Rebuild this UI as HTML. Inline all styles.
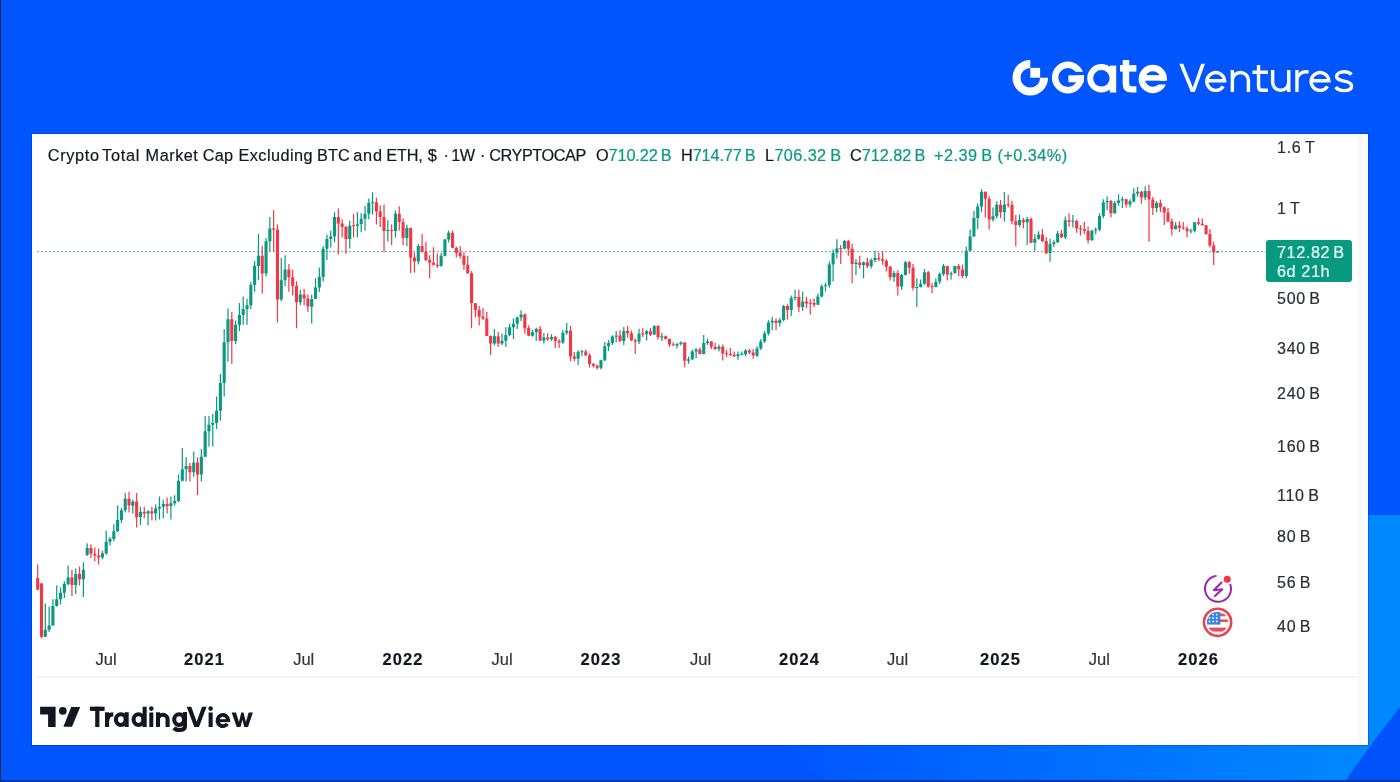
<!DOCTYPE html>
<html>
<head>
<meta charset="utf-8">
<style>
html,body{margin:0;padding:0;}
#txt{position:absolute;left:0;top:0;width:1400px;height:782px;will-change:transform;-webkit-text-stroke:0.2px currentColor;}
body{width:1400px;height:782px;position:relative;overflow:hidden;background:#0055FF;font-family:"Liberation Sans",sans-serif;}
.abs{position:absolute;}
#bg{position:absolute;left:0;top:0;}
#panel{position:absolute;left:32px;top:134px;width:1336px;height:611px;background:#fff;box-shadow:0 0 0 1px rgba(0,40,200,0.35);}
.tt{position:absolute;top:146px;font-size:16.3px;color:#131722;white-space:nowrap;letter-spacing:0.1px;}
.tt .g{color:#089981;}
#chart{position:absolute;left:0;top:0;}
.pl{position:absolute;left:1277px;font-size:16px;color:#2A2E39;white-space:nowrap;line-height:19px;letter-spacing:0.75px;}
.tl{position:absolute;top:649px;width:80px;text-align:center;font-size:16.5px;color:#333336;line-height:20px;}
.tl.yr{color:#131722;}
.tl.yr{font-weight:bold;letter-spacing:1.1px;}
#badge{position:absolute;left:1266px;top:240px;width:86px;height:42px;background:#089981;border-radius:3px;color:#E6FFF7;font-size:16.3px;line-height:19px;letter-spacing:0.55px;}
#badge div{padding-left:11px;}
#tvtext{position:absolute;left:89px;top:701.5px;font-size:28px;font-weight:bold;color:#131722;letter-spacing:-0.2px;line-height:32px;}
#ventures{position:absolute;left:1178px;top:54px;font-size:41px;color:#fff;letter-spacing:1.5px;line-height:46px;}
</style>
</head>
<body>
<svg id="bg" width="1400" height="782" viewBox="0 0 1400 782">
  <defs>
    <linearGradient id="bot" gradientUnits="userSpaceOnUse" x1="790" y1="0" x2="1360" y2="0">
      <stop offset="0" stop-color="#0056FF"/>
      <stop offset="1" stop-color="#0088FF"/>
    </linearGradient>
  </defs>
  <rect x="0" y="0" width="1400" height="782" fill="#0055FF"/>
  <path d="M790 745 H1368 V515 H1400 V707 Q1372 742 1345 782 H823 Z" fill="url(#bot)"/>
  <rect x="1368" y="515" width="32" height="230" fill="#0088FF"/>
  <path d="M1400 707 Q1372 742 1345 782 H1400 Z" fill="#0052FA"/>
  <rect x="0" y="0" width="1" height="782" fill="#002A80"/>
  <rect x="1" y="0" width="1" height="782" fill="#1F4FC0"/>
  <rect x="0" y="780" width="1400" height="2" fill="#0038A8"/>
</svg>
<div id="panel"></div>
<svg id="chart" width="1400" height="782" viewBox="0 0 1400 782">
  <rect x="1357.5" y="134" width="5" height="611" fill="#F8F8F6"/>
  <line x1="37" y1="677" x2="1357" y2="677" stroke="#EFEFEF" stroke-width="1.6"/>
  <line x1="36.9" y1="251.6" x2="1266" y2="251.6" stroke="#8FAAA1" stroke-width="1.35" stroke-dasharray="2 2"/>
  <path d="M45.31 603.4V637.0M49.12 606.6V632.0M52.92 599.2V625.6M56.73 585.5V606.6M60.53 587.6V604.5M64.34 581.3V598.1M68.15 565.4V585.5M75.76 568.6V593.9M83.37 562.3V597.1M87.18 543.3V556.0M102.40 550.7V559.0M106.20 530.6V554.9M110.01 537.0V545.4M113.82 524.3V541.2M117.62 505.6V532.1M121.43 507.9V522.9M125.23 492.9V512.5M132.85 499.8V513.6M140.46 506.7V525.2M148.07 510.2V525.2M155.68 504.4V520.6M159.49 496.4V519.4M163.29 499.8V518.2M170.90 496.4V519.4M174.71 495.2V505.6M178.51 474.5V502.1M182.32 448.0V481.4M186.13 457.2V481.4M193.74 451.4V476.8M201.35 449.1V481.4M205.16 416.1V456.8M208.96 416.1V446.5M212.77 413.9V446.5M216.57 396.5V429.1M220.38 373.7V420.4M224.18 329.1V396.5M227.99 308.5V361.7M235.60 320.4V344.3M239.41 303.0V331.3M243.21 296.5V324.8M247.02 298.7V324.8M250.83 282.1V309.0M254.63 261.0V291.7M258.44 234.1V280.2M266.05 238.0V276.4M269.85 216.9V251.4M281.27 258.1V301.3M285.08 255.3V286.0M300.30 289.8V305.2M311.72 294.6V323.4M315.52 278.3V299.0M319.33 267.6V292.1M323.14 246.1V281.4M326.94 234.5V259.9M330.75 230.7V247.6M334.55 212.3V242.2M349.78 220.7V248.4M357.39 212.3V237.6M361.19 213.0V232.2M365.00 206.1V230.7M368.81 198.4V219.2M372.61 192.3V214.6M387.83 220.1V241.4M395.45 210.4V237.4M406.86 224.7V246.0M418.28 243.7V264.4M441.12 252.9V266.7M444.92 239.1V256.4M448.73 230.5V242.6M494.40 329.1V345.2M502.01 333.6V345.2M505.81 327.3V347.0M509.62 323.8V336.3M513.43 318.4V339.0M517.23 316.6V329.1M521.04 310.3V321.1M532.45 329.7V336.8M536.26 327.6V340.9M543.87 333.2V343.5M551.48 334.3V340.9M562.90 329.7V344.0M566.71 323.0V334.8M578.12 350.1V364.9M581.93 350.1V356.2M600.96 359.8V369.5M604.77 341.9V361.3M608.57 339.9V351.1M612.38 335.3V345.0M616.18 331.0V342.2M623.79 327.0V344.9M639.02 328.8V344.0M646.63 330.1V340.4M654.24 325.2V335.1M661.85 332.8V340.9M677.08 343.1V348.5M680.88 341.3V345.4M688.49 356.6V363.7M692.30 349.4V360.1M696.10 348.0V358.3M703.72 335.1V354.3M707.52 338.6V344.9M718.94 344.5V351.6M737.97 351.6V359.7M741.77 351.6V355.2M745.58 349.0V356.1M757.00 346.3V357.0M760.80 339.1V349.9M764.61 331.1V342.7M768.41 320.3V335.5M772.22 316.8V330.2M779.83 317.7V326.6M783.64 305.1V321.2M791.25 295.4V315.9M795.06 289.7V300.6M802.67 291.6V310.8M817.89 293.5V305.0M821.70 284.6V297.4M825.50 282.7V291.6M829.31 261.6V287.8M833.11 249.4V281.4M836.92 239.2V258.4M844.53 239.8V249.4M855.95 259.0V275.0M863.56 261.6V278.2M871.17 258.4V268.6M874.98 250.7V262.2M894.01 270.9V281.8M901.62 273.7V289.8M905.42 261.1V275.5M916.84 278.3V307.1M920.65 279.5V287.5M924.45 269.1V284.7M935.87 278.3V287.5M939.68 272.6V284.1M943.48 263.9V276.0M951.09 271.4V279.5M954.90 265.7V273.7M966.32 246.7V278.3M970.12 229.5V251.3M973.93 211.1V236.4M977.73 203.6V228.9M981.54 189.2V212.2M992.96 207.6V221.4M996.76 201.3V218.5M1004.37 192.1V221.4M1019.60 214.5V227.2M1027.21 216.8V245.0M1034.82 234.1V251.3M1038.63 231.2V239.8M1050.04 238.7V261.7M1053.85 240.2V247.1M1057.66 231.0V243.1M1065.27 216.6V239.0M1072.88 214.9V227.5M1091.91 229.8V240.8M1095.71 227.5V234.4M1099.52 213.2V231.0M1103.33 199.3V218.3M1107.13 196.5V210.3M1114.74 201.1V213.7M1118.55 194.2V205.7M1122.35 196.5V208.0M1129.97 199.3V207.4M1133.77 188.3V202.3M1137.58 186.9V196.7M1145.19 186.2V200.2M1156.61 200.9V212.2M1175.64 222.0V229.8M1190.86 228.4V233.3M1194.67 222.3V232.6M1217.50 251.0V252.5" stroke="#089981" stroke-width="1.2" fill="none"/>
  <path d="M37.70 564.4V589.7M41.51 583.0V638.2M71.95 569.7V596.0M79.56 566.5V585.5M90.98 544.3V558.0M94.79 547.5V561.2M98.59 548.6V564.4M129.04 491.8V512.5M136.65 492.9V527.5M144.26 506.7V518.2M151.87 506.7V520.6M167.10 497.5V513.6M189.93 463.0V481.4M197.54 457.2V495.2M231.80 311.7V363.9M262.24 245.7V293.6M273.66 210.2V251.4M277.47 224.5V322.4M288.88 263.9V291.7M292.69 269.7V295.6M296.49 281.2V328.2M304.11 288.8V305.2M307.91 294.6V311.9M338.36 208.4V254.5M342.16 219.2V237.6M345.97 226.1V253.7M353.58 213.8V237.6M376.42 197.7V224.5M380.22 205.3V226.9M384.03 204.6V252.2M391.64 224.2V244.9M399.25 206.3V230.5M403.06 218.4V244.9M410.67 227.6V273.1M414.47 252.4V272.5M422.09 233.9V252.4M425.89 242.0V261.0M429.70 255.2V278.3M433.50 247.2V265.6M437.31 253.5V267.9M452.53 230.5V248.3M456.34 246.8V257.6M460.14 245.9V258.5M463.95 252.2V270.1M467.76 255.8V273.7M471.56 271.0V328.2M475.37 303.0V317.5M479.17 305.9V325.5M482.98 307.7V320.2M486.79 312.1V336.3M490.59 335.4V355.1M498.20 331.8V347.0M524.84 313.3V333.7M528.65 325.6V336.3M540.07 326.1V340.9M547.68 333.2V340.9M555.29 335.8V348.1M559.10 338.9V348.1M570.51 326.1V361.3M574.32 352.1V361.3M585.74 349.6V356.2M589.54 353.2V367.5M593.35 362.9V367.5M597.15 364.4V369.5M619.99 330.1V342.2M627.60 326.1V337.8M631.41 330.6V341.3M635.21 338.6V353.9M642.82 327.9V336.9M650.43 327.9V336.0M658.05 325.2V339.5M665.66 335.5V339.5M669.46 338.6V346.7M673.27 342.2V345.8M684.69 342.2V367.3M699.91 347.6V354.3M711.33 340.9V349.0M715.13 342.7V349.9M722.75 344.5V360.6M726.55 349.9V357.0M730.36 348.1V356.1M734.16 351.6V357.0M749.39 349.0V354.3M753.19 349.0V358.8M776.03 318.6V330.2M787.44 304.2V319.4M798.86 289.7V312.1M806.47 296.7V308.2M810.28 299.3V314.6M814.08 298.6V307.0M840.73 244.9V264.1M848.34 239.8V255.8M852.14 243.7V283.3M859.75 255.8V268.6M867.37 257.7V268.0M878.78 252.6V260.9M882.59 251.3V264.8M886.39 259.3V271.4M890.20 265.7V280.6M897.81 270.3V295.6M909.23 261.1V273.7M913.04 263.9V290.4M928.26 270.9V287.5M932.06 282.9V293.3M947.29 265.7V280.6M958.71 263.9V276.0M962.51 264.5V278.3M985.35 191.5V217.4M989.15 196.1V229.5M1000.57 200.1V218.0M1008.18 195.0V207.6M1011.99 200.7V224.3M1015.79 215.1V246.2M1023.40 218.0V228.3M1031.02 217.4V243.3M1042.43 228.9V242.1M1046.24 237.0V254.2M1061.46 229.8V237.9M1069.07 213.2V227.0M1076.69 219.5V232.7M1080.49 225.2V235.6M1084.30 221.8V233.9M1088.10 226.4V243.6M1110.94 199.9V217.2M1126.16 198.8V207.4M1141.38 191.1V203.8M1149.00 184.8V241.7M1152.80 196.7V215.0M1160.41 199.5V212.2M1164.22 206.6V224.9M1168.02 208.0V222.0M1171.83 218.5V235.4M1179.44 221.3V231.9M1183.25 222.0V229.8M1187.05 226.3V237.5M1198.47 217.8V225.6M1202.28 218.5V225.6M1206.08 224.9V234.7M1209.89 229.1V247.4M1213.69 241.7V264.9" stroke="#F23645" stroke-width="1.2" fill="none"/>
  <path d="M43.76 629.8h3.1v6.9h-3.1zM47.57 625.6h3.1v4.1h-3.1zM51.37 606.0h3.1v19.6h-3.1zM55.18 599.2h3.1v6.8h-3.1zM58.98 592.8h3.1v6.4h-3.1zM62.79 583.9h3.1v8.9h-3.1zM66.60 577.5h3.1v6.4h-3.1zM74.21 573.9h3.1v11.1h-3.1zM81.82 569.7h3.1v9.5h-3.1zM85.63 548.0h3.1v6.9h-3.1zM100.85 553.3h3.1v4.2h-3.1zM104.65 541.7h3.1v11.6h-3.1zM108.46 539.1h3.1v2.6h-3.1zM112.27 531.3h3.1v7.8h-3.1zM116.07 520.0h3.1v11.3h-3.1zM119.88 510.2h3.1v9.8h-3.1zM123.68 498.7h3.1v11.5h-3.1zM131.30 501.6h3.1v4.1h-3.1zM138.91 511.9h3.1v5.2h-3.1zM146.52 511.3h3.1v2.3h-3.1zM154.13 508.4h3.1v5.2h-3.1zM157.94 506.8h3.1v1.7h-3.1zM161.74 503.9h3.1v2.9h-3.1zM169.35 503.2h3.1v2.9h-3.1zM173.16 501.0h3.1v2.2h-3.1zM176.96 480.8h3.1v20.2h-3.1zM180.77 469.3h3.1v11.5h-3.1zM184.58 465.9h3.1v3.4h-3.1zM192.19 462.4h3.1v9.8h-3.1zM199.80 456.8h3.1v17.8h-3.1zM203.61 431.3h3.1v25.4h-3.1zM207.41 424.8h3.1v6.5h-3.1zM211.22 423.1h3.1v1.7h-3.1zM215.02 410.7h3.1v12.4h-3.1zM218.83 382.9h3.1v27.8h-3.1zM222.63 342.2h3.1v40.8h-3.1zM226.44 319.3h3.1v22.9h-3.1zM234.05 324.8h3.1v16.3h-3.1zM237.86 315.0h3.1v9.8h-3.1zM241.66 309.0h3.1v6.0h-3.1zM245.47 305.2h3.1v3.8h-3.1zM249.28 285.0h3.1v20.2h-3.1zM253.08 265.8h3.1v19.2h-3.1zM256.89 255.8h3.1v10.1h-3.1zM264.50 241.3h3.1v32.2h-3.1zM268.30 228.4h3.1v12.9h-3.1zM279.72 280.2h3.1v19.2h-3.1zM283.53 269.6h3.1v10.6h-3.1zM298.75 294.6h3.1v7.7h-3.1zM310.17 298.9h3.1v7.8h-3.1zM313.97 287.5h3.1v11.4h-3.1zM317.78 276.8h3.1v10.7h-3.1zM321.59 248.8h3.1v28.1h-3.1zM325.39 239.1h3.1v9.7h-3.1zM329.20 236.4h3.1v2.7h-3.1zM333.00 216.9h3.1v19.5h-3.1zM348.23 225.7h3.1v13.4h-3.1zM355.84 224.2h3.1v1.5h-3.1zM359.64 218.8h3.1v5.3h-3.1zM363.45 213.8h3.1v5.0h-3.1zM367.26 203.0h3.1v10.8h-3.1zM371.06 202.2h3.1v1.0h-3.1zM386.28 229.9h3.1v1.0h-3.1zM393.90 213.8h3.1v17.3h-3.1zM405.31 227.9h3.1v10.1h-3.1zM416.73 246.1h3.1v15.5h-3.1zM439.57 255.8h3.1v10.3h-3.1zM443.37 239.4h3.1v16.4h-3.1zM447.18 232.8h3.1v6.6h-3.1zM492.85 336.3h3.1v7.1h-3.1zM500.46 340.8h3.1v2.6h-3.1zM504.26 334.9h3.1v5.8h-3.1zM508.07 327.3h3.1v7.6h-3.1zM511.88 323.8h3.1v3.5h-3.1zM515.68 317.5h3.1v6.3h-3.1zM519.49 314.6h3.1v2.9h-3.1zM530.90 332.2h3.1v3.6h-3.1zM534.71 328.9h3.1v3.3h-3.1zM542.32 337.6h3.1v2.8h-3.1zM549.93 337.1h3.1v2.1h-3.1zM561.35 332.7h3.1v9.7h-3.1zM565.16 330.7h3.1v2.0h-3.1zM576.57 352.1h3.1v6.7h-3.1zM580.38 351.2h3.1v1.0h-3.1zM599.41 360.3h3.1v7.4h-3.1zM603.22 346.2h3.1v14.1h-3.1zM607.02 342.9h3.1v3.4h-3.1zM610.83 336.6h3.1v6.3h-3.1zM614.63 335.6h3.1v1.1h-3.1zM622.24 331.0h3.1v9.9h-3.1zM637.47 333.8h3.1v7.8h-3.1zM645.08 331.2h3.1v2.7h-3.1zM652.69 326.1h3.1v8.5h-3.1zM660.30 336.2h3.1v1.2h-3.1zM675.53 344.0h3.1v1.6h-3.1zM679.33 342.6h3.1v1.4h-3.1zM686.94 359.2h3.1v1.6h-3.1zM690.75 351.4h3.1v7.9h-3.1zM694.55 349.4h3.1v2.0h-3.1zM702.17 343.1h3.1v10.8h-3.1zM705.97 341.6h3.1v1.6h-3.1zM717.39 346.8h3.1v2.2h-3.1zM736.42 354.3h3.1v1.8h-3.1zM740.22 353.8h3.1v1.0h-3.1zM744.03 350.4h3.1v3.9h-3.1zM755.45 348.6h3.1v7.1h-3.1zM759.25 341.4h3.1v7.2h-3.1zM763.06 333.4h3.1v8.0h-3.1zM766.86 322.6h3.1v10.8h-3.1zM770.67 320.8h3.1v1.8h-3.1zM778.28 319.9h3.1v3.1h-3.1zM782.09 306.0h3.1v13.9h-3.1zM789.70 298.0h3.1v12.0h-3.1zM793.51 297.0h3.1v1.0h-3.1zM801.12 301.5h3.1v5.5h-3.1zM816.34 296.4h3.1v8.3h-3.1zM820.15 286.2h3.1v10.2h-3.1zM823.95 285.2h3.1v1.0h-3.1zM827.76 264.5h3.1v20.7h-3.1zM831.56 252.9h3.1v11.6h-3.1zM835.37 248.4h3.1v4.4h-3.1zM842.98 241.1h3.1v7.3h-3.1zM854.40 262.5h3.1v1.6h-3.1zM862.01 262.2h3.1v2.9h-3.1zM869.62 259.9h3.1v6.4h-3.1zM873.43 258.0h3.1v1.9h-3.1zM892.46 272.9h3.1v4.3h-3.1zM900.07 274.9h3.1v11.5h-3.1zM903.87 262.2h3.1v12.7h-3.1zM915.29 286.9h3.1v1.0h-3.1zM919.10 283.8h3.1v3.2h-3.1zM922.90 272.3h3.1v11.5h-3.1zM934.32 281.8h3.1v5.2h-3.1zM938.13 274.0h3.1v7.8h-3.1zM941.93 265.9h3.1v8.1h-3.1zM949.54 273.2h3.1v1.4h-3.1zM953.35 265.9h3.1v7.2h-3.1zM964.77 250.7h3.1v25.3h-3.1zM968.57 236.4h3.1v14.3h-3.1zM972.38 218.0h3.1v18.4h-3.1zM976.18 206.5h3.1v11.5h-3.1zM979.99 191.8h3.1v14.7h-3.1zM991.41 216.2h3.1v3.2h-3.1zM995.21 204.7h3.1v11.5h-3.1zM1002.82 204.4h3.1v7.8h-3.1zM1018.05 220.0h3.1v4.9h-3.1zM1025.66 219.1h3.1v3.2h-3.1zM1033.27 238.7h3.1v4.0h-3.1zM1037.08 234.4h3.1v4.3h-3.1zM1048.49 244.0h3.1v9.1h-3.1zM1052.30 242.2h3.1v1.8h-3.1zM1056.11 233.6h3.1v8.6h-3.1zM1063.72 220.3h3.1v17.0h-3.1zM1071.33 220.8h3.1v1.0h-3.1zM1090.36 230.7h3.1v9.5h-3.1zM1094.16 229.6h3.1v1.1h-3.1zM1097.97 216.0h3.1v13.6h-3.1zM1101.78 202.2h3.1v13.8h-3.1zM1105.58 201.1h3.1v1.1h-3.1zM1113.19 203.1h3.1v10.1h-3.1zM1117.00 200.5h3.1v2.6h-3.1zM1120.80 199.3h3.1v1.2h-3.1zM1128.42 201.3h3.1v3.2h-3.1zM1132.22 193.6h3.1v7.8h-3.1zM1136.03 191.8h3.1v1.8h-3.1zM1143.64 191.1h3.1v6.3h-3.1zM1155.06 203.0h3.1v5.0h-3.1zM1174.09 225.6h3.1v3.5h-3.1zM1189.31 230.5h3.1v1.0h-3.1zM1193.12 222.3h3.1v8.5h-3.1zM1215.95 251.4h3.1v1.0h-3.1z" fill="#089981"/>
  <path d="M36.15 578.1h3.1v11.6h-3.1zM39.96 583.4h3.1v53.3h-3.1zM70.40 577.5h3.1v7.4h-3.1zM78.01 573.9h3.1v5.3h-3.1zM89.43 548.0h3.1v5.8h-3.1zM93.24 553.9h3.1v1.5h-3.1zM97.04 555.4h3.1v2.1h-3.1zM127.49 498.7h3.1v6.9h-3.1zM135.10 501.6h3.1v15.6h-3.1zM142.71 511.9h3.1v1.7h-3.1zM150.32 511.3h3.1v2.3h-3.1zM165.55 503.9h3.1v2.3h-3.1zM188.38 465.9h3.1v6.3h-3.1zM195.99 462.4h3.1v12.1h-3.1zM230.25 319.3h3.1v21.8h-3.1zM260.69 255.8h3.1v17.8h-3.1zM272.11 228.4h3.1v1.4h-3.1zM275.92 229.8h3.1v69.6h-3.1zM287.33 269.6h3.1v7.7h-3.1zM291.14 277.3h3.1v8.7h-3.1zM294.94 286.0h3.1v16.3h-3.1zM302.56 294.6h3.1v3.8h-3.1zM306.36 298.4h3.1v8.2h-3.1zM336.81 216.9h3.1v6.5h-3.1zM340.61 223.4h3.1v3.5h-3.1zM344.42 226.9h3.1v12.2h-3.1zM352.03 225.2h3.1v1.0h-3.1zM374.87 202.3h3.1v9.2h-3.1zM378.67 211.5h3.1v5.4h-3.1zM382.48 216.9h3.1v14.0h-3.1zM390.09 230.0h3.1v1.1h-3.1zM397.70 213.8h3.1v8.1h-3.1zM401.51 221.9h3.1v16.1h-3.1zM409.12 227.9h3.1v29.6h-3.1zM412.92 257.5h3.1v4.1h-3.1zM420.54 246.1h3.1v5.8h-3.1zM424.34 251.8h3.1v8.3h-3.1zM428.15 260.1h3.1v2.6h-3.1zM431.95 262.7h3.1v2.0h-3.1zM435.76 264.7h3.1v1.4h-3.1zM450.98 232.8h3.1v14.9h-3.1zM454.79 247.8h3.1v4.9h-3.1zM458.59 252.7h3.1v3.2h-3.1zM462.40 255.8h3.1v8.9h-3.1zM466.21 264.7h3.1v8.6h-3.1zM470.01 273.2h3.1v29.9h-3.1zM473.82 303.2h3.1v6.7h-3.1zM477.62 309.9h3.1v6.8h-3.1zM481.43 316.6h3.1v1.8h-3.1zM485.24 318.4h3.1v17.5h-3.1zM489.04 335.9h3.1v7.5h-3.1zM496.65 336.3h3.1v7.1h-3.1zM523.29 314.6h3.1v13.6h-3.1zM527.10 328.1h3.1v7.7h-3.1zM538.52 328.9h3.1v11.5h-3.1zM546.13 337.6h3.1v1.6h-3.1zM553.74 337.1h3.1v3.8h-3.1zM557.55 340.9h3.1v1.5h-3.1zM568.96 330.7h3.1v25.8h-3.1zM572.77 356.5h3.1v2.3h-3.1zM584.19 351.4h3.1v3.8h-3.1zM587.99 355.2h3.1v8.9h-3.1zM591.80 364.1h3.1v1.6h-3.1zM595.60 365.7h3.1v2.1h-3.1zM618.44 335.6h3.1v5.3h-3.1zM626.05 331.0h3.1v2.3h-3.1zM629.86 333.3h3.1v6.9h-3.1zM633.66 340.2h3.1v1.3h-3.1zM641.27 333.4h3.1v1.0h-3.1zM648.88 331.2h3.1v3.4h-3.1zM656.50 326.1h3.1v11.2h-3.1zM664.11 336.2h3.1v2.9h-3.1zM667.91 339.1h3.1v5.4h-3.1zM671.72 344.4h3.1v1.2h-3.1zM683.14 342.6h3.1v18.2h-3.1zM698.36 349.4h3.1v4.5h-3.1zM709.78 341.6h3.1v5.2h-3.1zM713.58 346.8h3.1v2.2h-3.1zM721.20 346.8h3.1v6.6h-3.1zM725.00 353.3h3.1v1.0h-3.1zM728.81 354.0h3.1v1.0h-3.1zM732.61 354.8h3.1v1.4h-3.1zM747.84 350.4h3.1v2.1h-3.1zM751.64 352.5h3.1v3.1h-3.1zM774.48 320.8h3.1v2.2h-3.1zM785.89 306.0h3.1v4.0h-3.1zM797.31 297.0h3.1v10.0h-3.1zM804.92 301.5h3.1v1.9h-3.1zM808.73 302.8h3.1v1.0h-3.1zM812.53 303.1h3.1v1.6h-3.1zM839.18 247.9h3.1v1.0h-3.1zM846.79 241.1h3.1v7.7h-3.1zM850.59 248.8h3.1v15.3h-3.1zM858.20 262.5h3.1v2.6h-3.1zM865.82 262.2h3.1v4.1h-3.1zM877.23 258.0h3.1v1.3h-3.1zM881.04 259.3h3.1v1.4h-3.1zM884.84 260.7h3.1v6.1h-3.1zM888.65 266.8h3.1v10.4h-3.1zM896.26 272.9h3.1v13.5h-3.1zM907.68 262.2h3.1v5.5h-3.1zM911.49 267.7h3.1v20.1h-3.1zM926.71 272.3h3.1v14.1h-3.1zM930.51 286.2h3.1v1.0h-3.1zM945.74 265.9h3.1v8.7h-3.1zM957.16 265.9h3.1v3.4h-3.1zM960.96 269.4h3.1v6.6h-3.1zM983.80 191.8h3.1v6.9h-3.1zM987.60 198.7h3.1v20.7h-3.1zM999.02 204.7h3.1v7.5h-3.1zM1006.63 204.2h3.1v1.0h-3.1zM1010.44 205.0h3.1v16.2h-3.1zM1014.24 221.2h3.1v3.8h-3.1zM1021.85 220.0h3.1v2.3h-3.1zM1029.47 219.1h3.1v23.6h-3.1zM1040.88 234.4h3.1v6.6h-3.1zM1044.69 241.0h3.1v12.1h-3.1zM1059.91 233.6h3.1v3.7h-3.1zM1067.52 220.3h3.1v1.5h-3.1zM1075.14 220.9h3.1v7.5h-3.1zM1078.94 228.3h3.1v1.0h-3.1zM1082.75 229.2h3.1v1.8h-3.1zM1086.55 231.0h3.1v9.2h-3.1zM1109.39 201.1h3.1v12.1h-3.1zM1124.61 199.3h3.1v5.2h-3.1zM1139.83 191.8h3.1v5.6h-3.1zM1147.45 191.1h3.1v8.4h-3.1zM1151.25 199.5h3.1v8.5h-3.1zM1158.86 203.0h3.1v4.3h-3.1zM1162.67 207.3h3.1v5.2h-3.1zM1166.47 212.6h3.1v8.8h-3.1zM1170.28 221.3h3.1v7.8h-3.1zM1177.89 225.6h3.1v2.1h-3.1zM1181.70 227.6h3.1v1.0h-3.1zM1185.50 228.4h3.1v2.8h-3.1zM1196.92 222.3h3.1v1.4h-3.1zM1200.73 223.8h3.1v1.5h-3.1zM1204.53 225.2h3.1v8.8h-3.1zM1208.34 234.0h3.1v11.6h-3.1zM1212.14 245.6h3.1v6.6h-3.1z" fill="#F23645"/>
  <!-- purple icon -->
  <circle cx="1218" cy="588.8" r="13" fill="none" stroke="#9C27B0" stroke-width="2" stroke-dasharray="64.5 17.2" transform="rotate(-22 1218 588.8)"/>
  <path d="M1221.5 582.5 L1213.8 590.2 L1222.3 589.2 L1215 596" fill="none" stroke="#9C27B0" stroke-width="2.1" stroke-linejoin="round" stroke-linecap="round"/>
  <circle cx="1227.2" cy="579.2" r="3.5" fill="#F23645"/>
  <!-- US flag icon -->
  <defs><clipPath id="fc"><circle cx="1217.6" cy="622.3" r="10.6"/></clipPath></defs>
  <circle cx="1217.6" cy="622.3" r="13.6" fill="#fff" stroke="#E8424F" stroke-width="2.6"/>
  <g clip-path="url(#fc)">
    <rect x="1205" y="610" width="26" height="26" fill="#fff"/>
    <rect x="1205" y="613.4" width="26" height="2.8" fill="#EF4B58"/>
    <rect x="1205" y="619.4" width="26" height="2.6" fill="#EF4B58"/>
    <rect x="1205" y="627.6" width="26" height="4" fill="#EF4B58"/>
    <rect x="1205" y="610" width="15.4" height="14.6" fill="#3C83E2"/>
    <circle cx="1209.5" cy="614.6" r="0.9" fill="#fff"/><circle cx="1209.5" cy="618.0" r="0.9" fill="#fff"/><circle cx="1209.5" cy="621.4" r="0.9" fill="#fff"/><circle cx="1213.1" cy="614.6" r="0.9" fill="#fff"/><circle cx="1213.1" cy="618.0" r="0.9" fill="#fff"/><circle cx="1213.1" cy="621.4" r="0.9" fill="#fff"/><circle cx="1216.7" cy="614.6" r="0.9" fill="#fff"/><circle cx="1216.7" cy="618.0" r="0.9" fill="#fff"/><circle cx="1216.7" cy="621.4" r="0.9" fill="#fff"/>
  </g>
  <!-- TradingView icon -->
  <path d="M40.1 706.8 H55.6 V727 H48.1 V714.5 H40.1 Z" fill="#131722"/>
  <circle cx="62.8" cy="710.8" r="3.9" fill="#131722"/>
  <path d="M71.2 707 H80.2 L72 726.8 H63.4 Z" fill="#131722"/>
  <!-- TradingView wordmark -->
  <g fill="#131722">
    <rect x="89.9" y="706.7" width="14.7" height="4.2"/>
    <rect x="95.2" y="706.7" width="4.2" height="20.3"/>
    <rect x="105" y="712.3" width="4.1" height="14.7"/>
    <rect x="124.6" y="712.2" width="4.1" height="14.8"/>
    <rect x="142.6" y="706.7" width="4.1" height="20.3"/>
    <rect x="149.3" y="712.5" width="4.0" height="14.5"/>
    <circle cx="151.3" cy="708.6" r="2.3"/>
    <rect x="156" y="712.3" width="4.0" height="14.7"/>
    <rect x="208.6" y="712.5" width="4.1" height="14.5"/>
    <circle cx="210.65" cy="708.6" r="2.3"/>
    <path d="M186.7 706.7 H191.3 L196.65 721.8 L202 706.7 H206.6 L199 727 H194.3 Z"/>
    <path d="M231.7 712.5 H236 L238.9 722 L241.3 712.5 H243.5 L245.9 722 L248.7 712.5 H252.9 L248 727 H244.3 L242.4 719.8 L240.5 727 H236.7 Z"/>
  </g>
  <g fill="none" stroke="#131722" stroke-width="4.1">
    <path d="M107.05 721.5 Q107.05 714.4 113.3 714.4"/>
    <ellipse cx="120.8" cy="719.6" rx="4.9" ry="5.35"/>
    <ellipse cx="138.5" cy="719.6" rx="4.9" ry="5.35"/>
    <path d="M158 727 V719.6 A4.8 4.8 0 0 1 167.6 719.6 V727"/>
    <ellipse cx="179.1" cy="719.6" rx="4.9" ry="5.35"/>
    <path d="M184.95 712.2 V726.3 Q184.95 730.05 179.4 730.05 Q175.8 730.05 173.9 727.9"/>
    <path d="M228.2 720.5 A5.35 5.6 0 1 0 227.2 723.8" stroke-width="3.8"/>
  </g>
  <rect x="216.4" y="719.2" width="13.7" height="2.9" fill="#131722"/>
  <rect x="182.9" y="712.2" width="4.1" height="14" fill="#131722"/>
  <!-- Gate icon -->
  <path d="M1030.3 59.9 A17.8 17.8 0 1 0 1048.1 77.7 H1040.1 A9.8 9.8 0 1 1 1030.3 67.9 Z" fill="#fff"/>
  <rect x="1030.3" y="67.9" width="9.8" height="9.8" fill="#fff"/>
  <defs>
    <mask id="gm" maskUnits="userSpaceOnUse" x="1040" y="50" width="140" height="50">
      <rect x="1040" y="50" width="140" height="50" fill="#fff"/>
      <rect x="1068" y="71.8" width="20" height="3.5" fill="#000"/>
      <rect x="1156" y="80.7" width="16" height="3.8" fill="#000"/>
    </mask>
  </defs>
  <g fill="#fff" mask="url(#gm)">
    <circle cx="1067.9" cy="77.5" r="12.8" fill="none" stroke="#fff" stroke-width="6.4"/>
    <circle cx="1152.8" cy="79" r="11" fill="none" stroke="#fff" stroke-width="6.4"/>
  </g>
  <g fill="#fff">
    <rect x="1068.4" y="75.3" width="15.6" height="7"/>
    <circle cx="1101.4" cy="78.3" r="11.25" fill="none" stroke="#fff" stroke-width="5.9"/>
    <rect x="1109.8" y="65.6" width="6.4" height="26.9"/>
    <path d="M1122.7 60 H1129.2 V83.5 Q1129.2 86.3 1132 86.3 H1136.4 V92.5 H1131 Q1122.7 92.5 1122.7 84 Z"/>
    <rect x="1120" y="65.1" width="16.4" height="6.5"/>
    <rect x="1140" y="75.1" width="25.8" height="5.6"/>
  </g>
  <g fill="none" stroke="#fff" stroke-width="3.4">
    <path d="M1179.3 63.7 H1183.2 L1192.85 87.6 L1201.1 63.7 H1205 L1194.8 92 H1190.9 Z" fill="#fff" stroke="none"/>
    <path d="M1207.4 80.8 H1224.6 A8.9 8.9 0 1 0 1223.2 86.3"/>
    <path d="M1232.35 70.1 V92 M1232.35 79.85 A8.05 8.05 0 0 1 1248.4 79.85 V92"/>
    <path d="M1258.55 65.1 V86.5 Q1258.55 90.3 1262.3 90.3 H1267.9 M1252.5 72.3 H1267.9"/>
    <path d="M1272.65 70.1 V82.25 A8.05 8.05 0 0 0 1288.75 82.25 M1288.75 70.1 V92"/>
    <path d="M1296.95 70.1 V92 M1296.95 80.5 A8.7 8.7 0 0 1 1305.65 71.8 H1308.6"/>
    <path d="M1311.7 80.8 H1328.9 A8.9 8.9 0 1 0 1327.5 86.3"/>
    <path d="M1351.3 74.8 C1349.8 72.6 1347.4 71.8 1344 71.8 C1339.6 71.8 1336.6 73.6 1336.6 76.6 C1336.6 79.6 1339.8 80.4 1344 81.1 C1348.6 81.8 1351.6 83 1351.6 86.2 C1351.6 89.2 1348.4 90.6 1344 90.6 C1340 90.6 1337.3 89.4 1335.8 87"/>
  </g>
</svg>
<div id="txt">
<div class="tt" style="left:47.8px;letter-spacing:0.65px">Crypto</div>
<div class="tt" style="left:102.1px;letter-spacing:0.75px">Total</div>
<div class="tt" style="left:145.6px;letter-spacing:0.5px">Market</div>
<div class="tt" style="left:202.8px;letter-spacing:0.15px">Cap</div>
<div class="tt" style="left:238.5px;letter-spacing:0.42px">Excluding</div>
<div class="tt" style="left:317.1px;letter-spacing:0px">BTC</div>
<div class="tt" style="left:353.2px;letter-spacing:0.85px">and</div>
<div class="tt" style="left:386.3px;letter-spacing:-0.2px">ETH,</div>
<div class="tt" style="left:427.8px;letter-spacing:0px">$</div>
<div class="tt" style="left:443.5px;letter-spacing:0px">·</div>
<div class="tt" style="left:451.3px;letter-spacing:-0.5px">1W</div>
<div class="tt" style="left:479.9px;letter-spacing:0px">·</div>
<div class="tt" style="left:489.2px;letter-spacing:-0.45px">CRYPTOCAP</div>
<div class="tt" style="left:596px;letter-spacing:-0.12px">O<span class="g">710.22&#8201;B</span></div>
<div class="tt" style="left:681px;letter-spacing:-0.12px">H<span class="g">714.77&#8201;B</span></div>
<div class="tt" style="left:765px;letter-spacing:0.38px">L<span class="g">706.32&#8201;B</span></div>
<div class="tt" style="left:850px;letter-spacing:-0.05px">C<span class="g">712.82&#8201;B</span></div>
<div class="tt" style="left:934px;letter-spacing:0.45px"><span class="g">+2.39&#8201;B (+0.34%)</span></div>
<div class="pl" style="top:138.1px">1.6 T</div><div class="pl" style="top:199.1px">1 T</div><div class="pl" style="top:289.1px">500 B</div><div class="pl" style="top:339.2px">340 B</div><div class="pl" style="top:384.4px">240 B</div><div class="pl" style="top:437.1px">160 B</div><div class="pl" style="top:485.7px">110 B</div><div class="pl" style="top:527.1px">80 B</div><div class="pl" style="top:573.4px">56 B</div><div class="pl" style="top:617.1px">40 B</div>
<div class="tl" style="left:66.0px">Jul</div><div class="tl yr" style="left:164.5px">2021</div><div class="tl" style="left:263.7px">Jul</div><div class="tl yr" style="left:363.0px">2022</div><div class="tl" style="left:462.0px">Jul</div><div class="tl yr" style="left:561.0px">2023</div><div class="tl" style="left:660.5px">Jul</div><div class="tl yr" style="left:759.5px">2024</div><div class="tl" style="left:857.5px">Jul</div><div class="tl yr" style="left:960.5px">2025</div><div class="tl" style="left:1059.4px">Jul</div><div class="tl yr" style="left:1158.5px">2026</div>
<div id="badge"><div style="margin-top:3px">712.82&#8198;B</div><div>6d 21h</div></div>
</div>
</body>
</html>
